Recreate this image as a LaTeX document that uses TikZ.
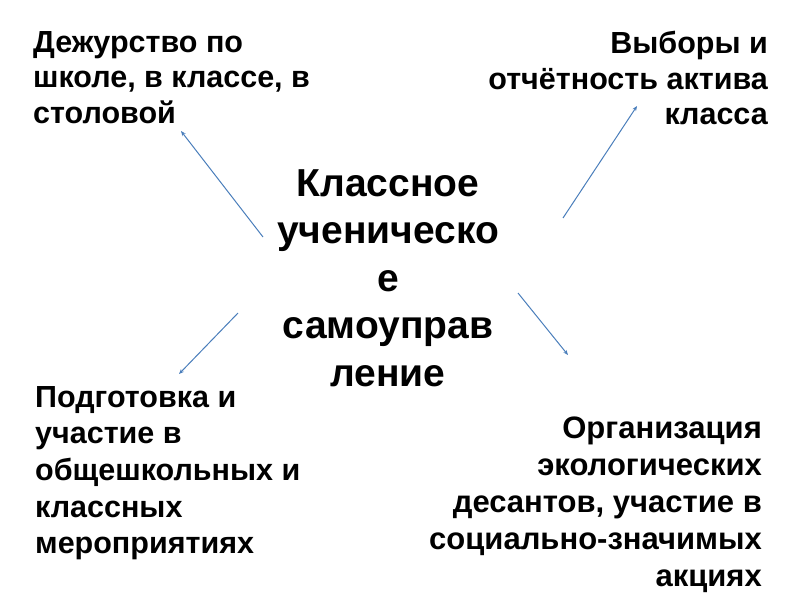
\documentclass[tikz,border=0pt]{standalone}
\usepackage{fontspec}
\setmainfont{Liberation Sans}
\usetikzlibrary{arrows.meta}
\definecolor{linkblue}{RGB}{74,126,187}
\tikzset{
  corner/.style={inner sep=0pt, font=\fontsize{30.5}{35.5}\selectfont\bfseries},
  cornerc/.style={inner sep=0pt, font=\fontsize{30.5}{36.7}\selectfont\bfseries},
  cornerb/.style={inner sep=0pt, font=\fontsize{31}{37}\selectfont\bfseries},
  hub/.style={inner sep=0pt, align=center, font=\fontsize{39}{47.5}\selectfont\bfseries},
  link/.style={draw=linkblue, line width=1pt, -{Stealth[length=5pt,width=4pt]}}
}
\begin{document}
\begin{tikzpicture}[x=1pt,y=-1pt]
\useasboundingbox (0,0) rectangle (800,600);
\node[hub, anchor=north] (c) at (388,169) {Классное\\ученическо\\е\\самоуправ\\ление};
\node[corner, align=left, anchor=north west] (tl) at (33,31) {Дежурство по\\школе, в классе, в\\столовой};
\node[corner, align=right, anchor=north east] (tr) at (768,31) {Выборы и\\отчётность актива\\класса};
\node[cornerc, align=left, anchor=north west] (bl) at (35,386) {Подготовка и\\участие в\\общешкольных и\\классных\\мероприятиях};
\node[cornerb, align=right, anchor=north east] (br) at (762,417) {Организация\\экологических\\десантов, участие в\\социально-значимых\\акциях};
\coordinate (a1s) at (263,237); \coordinate (a1e) at (181,131);
\coordinate (a2s) at (563,218); \coordinate (a2e) at (637,106);
\coordinate (a3s) at (238,313); \coordinate (a3e) at (179,374);
\coordinate (a4s) at (518,293); \coordinate (a4e) at (568,355);
\draw[link] (a1s) -- (a1e);
\draw[link] (a2s) -- (a2e);
\draw[link] (a3s) -- (a3e);
\draw[link] (a4s) -- (a4e);
\end{tikzpicture}
\end{document}
